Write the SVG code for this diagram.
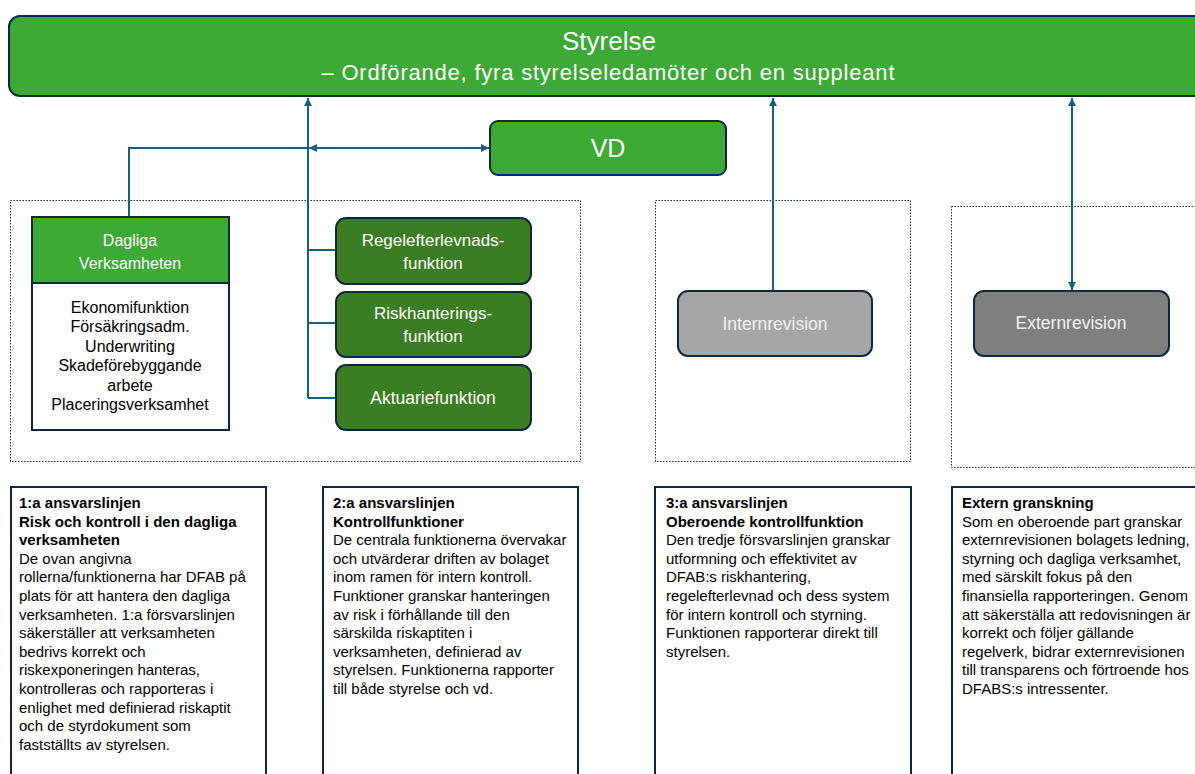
<svg xmlns="http://www.w3.org/2000/svg" width="1195" height="774" viewBox="0 0 1195 774">
<defs>
<style>
.lbl{font-family:"Liberation Sans",Arial,sans-serif;}
.wt{fill:#ffffff;}
.lt{fill:#f2f2f2;}
.node{stroke:#0e2841;stroke-width:2;}
.cont{fill:none;stroke:#0e2841;stroke-width:1;stroke-dasharray:1.5 1.5;}
.tbox{fill:#ffffff;stroke:#0e2841;stroke-width:2;}
.conn{fill:none;stroke:#156082;stroke-width:2;}
.body{font-family:"Liberation Sans",Arial,sans-serif;font-size:15px;fill:#000;}
.b{font-weight:bold;}
</style>
<marker id="ah" viewBox="0 0 10 10" refX="10" refY="5" markerWidth="9" markerHeight="8" markerUnits="userSpaceOnUse" orient="auto-start-reverse">
<path d="M0,0 L10,5 L0,10 z" fill="#156082"/>
</marker>
</defs>
<rect width="1195" height="774" fill="#ffffff"/>

<g id="containers">
<rect class="cont" x="10.5" y="200.5" width="570" height="261"/>
<rect class="cont" x="655.5" y="200.5" width="255" height="261"/>
<rect class="cont" x="951.5" y="206.5" width="260" height="261"/>
</g>

<g id="styrelse">
<rect class="node" x="9" y="16" width="1200" height="80" rx="11" fill="#3daa35"/>
<text class="lbl wt" x="609" y="50" font-size="26" text-anchor="middle">Styrelse</text>
<text class="lbl wt" x="608" y="80" font-size="22" text-anchor="middle" textLength="573" lengthAdjust="spacing">– Ordförande, fyra styrelseledamöter och en suppleant</text>
</g>

<g id="vd">
<rect class="node" x="490" y="121" width="236" height="54" rx="8" fill="#3daa35"/>
<text class="lbl wt" x="608" y="157" font-size="25" text-anchor="middle">VD</text>
</g>

<g id="connectors">
<path class="conn" d="M308,398 V98" marker-end="url(#ah)"/>
<path class="conn" d="M308,250 H336 M308,323 H336 M308,398 H336"/>
<path class="conn" d="M129,217 V148 H308"/>
<path class="conn" d="M309,148 H489" marker-start="url(#ah)" marker-end="url(#ah)"/>
<path class="conn" d="M773,290 V98" marker-end="url(#ah)"/>
<path class="conn" d="M1072,98 V290" marker-start="url(#ah)" marker-end="url(#ah)"/>
</g>

<g id="dagliga">
<rect class="node" x="32" y="283" width="197" height="147" fill="#ffffff"/>
<rect class="node" x="32" y="217" width="197" height="66" fill="#3daa35"/>
<text class="lbl wt" x="130" y="246" font-size="16" text-anchor="middle">Dagliga</text>
<text class="lbl wt" x="130" y="269" font-size="16" text-anchor="middle">Verksamheten</text>
<text class="lbl" x="130" y="313" font-size="16" text-anchor="middle" fill="#000">Ekonomifunktion</text>
<text class="lbl" x="130" y="332" font-size="16" text-anchor="middle" fill="#000">Försäkringsadm.</text>
<text class="lbl" x="130" y="352" font-size="16" text-anchor="middle" fill="#000">Underwriting</text>
<text class="lbl" x="130" y="371" font-size="16" text-anchor="middle" fill="#000">Skadeförebyggande</text>
<text class="lbl" x="130" y="391" font-size="16" text-anchor="middle" fill="#000">arbete</text>
<text class="lbl" x="130" y="410" font-size="16" text-anchor="middle" fill="#000">Placeringsverksamhet</text>
</g>

<g id="regelefterlevnad">
<rect class="node" x="336" y="218" width="195" height="66" rx="10" fill="#3b7d23"/>
<text class="lbl wt" x="433" y="246" font-size="17" text-anchor="middle">Regelefterlevnads-</text>
<text class="lbl wt" x="433" y="269" font-size="17" text-anchor="middle">funktion</text>
</g>

<g id="riskhantering">
<rect class="node" x="336" y="292" width="195" height="65" rx="10" fill="#3b7d23"/>
<text class="lbl wt" x="433" y="319" font-size="17" text-anchor="middle">Riskhanterings-</text>
<text class="lbl wt" x="433" y="342" font-size="17" text-anchor="middle">funktion</text>
</g>

<g id="aktuarie">
<rect class="node" x="336" y="365" width="195" height="65" rx="10" fill="#3b7d23"/>
<text class="lbl wt" x="433" y="404" font-size="17.5" text-anchor="middle">Aktuariefunktion</text>
</g>

<g id="internrevision">
<rect class="node" x="678" y="291" width="194" height="65" rx="10" fill="#a6a6a6"/>
<text class="lbl lt" x="775" y="330" font-size="17.5" text-anchor="middle">Internrevision</text>
</g>

<g id="externrevision">
<rect class="node" x="974" y="291" width="195" height="65" rx="10" fill="#7f7f7f"/>
<text class="lbl lt" x="1071" y="329" font-size="17.5" text-anchor="middle">Externrevision</text>
</g>

<g id="text1">
<rect class="tbox" x="11" y="487" width="255" height="300"/>
<text class="body">
<tspan class="b" x="19" y="508">1:a ansvarslinjen</tspan>
<tspan class="b" x="19" y="526.6">Risk och kontroll i den dagliga</tspan>
<tspan class="b" x="19" y="545.2">verksamheten</tspan>
<tspan x="19" y="563.8">De ovan angivna</tspan>
<tspan x="19" y="582.4">rollerna/funktionerna har DFAB på</tspan>
<tspan x="19" y="601">plats för att hantera den dagliga</tspan>
<tspan x="19" y="619.6">verksamheten. 1:a försvarslinjen</tspan>
<tspan x="19" y="638.2">säkerställer att verksamheten</tspan>
<tspan x="19" y="656.8">bedrivs korrekt och</tspan>
<tspan x="19" y="675.4">riskexponeringen hanteras,</tspan>
<tspan x="19" y="694">kontrolleras och rapporteras i</tspan>
<tspan x="19" y="712.6">enlighet med definierad riskaptit</tspan>
<tspan x="19" y="731.2">och de styrdokument som</tspan>
<tspan x="19" y="749.8">fastställts av styrelsen.</tspan>
</text>
</g>

<g id="text2">
<rect class="tbox" x="323" y="487" width="255" height="300"/>
<text class="body">
<tspan class="b" x="333" y="508">2:a ansvarslinjen</tspan>
<tspan class="b" x="333" y="526.6">Kontrollfunktioner</tspan>
<tspan x="333" y="545.2">De centrala funktionerna övervakar</tspan>
<tspan x="333" y="563.8">och utvärderar driften av bolaget</tspan>
<tspan x="333" y="582.4">inom ramen för intern kontroll.</tspan>
<tspan x="333" y="601">Funktioner granskar hanteringen</tspan>
<tspan x="333" y="619.6">av risk i förhållande till den</tspan>
<tspan x="333" y="638.2">särskilda riskaptiten i</tspan>
<tspan x="333" y="656.8">verksamheten, definierad av</tspan>
<tspan x="333" y="675.4">styrelsen. Funktionerna rapporter</tspan>
<tspan x="333" y="694">till både styrelse och vd.</tspan>
</text>
</g>

<g id="text3">
<rect class="tbox" x="655" y="487" width="256" height="300"/>
<text class="body">
<tspan class="b" x="666" y="508">3:a ansvarslinjen</tspan>
<tspan class="b" x="666" y="526.6">Oberoende kontrollfunktion</tspan>
<tspan x="666" y="545.2">Den tredje försvarslinjen granskar</tspan>
<tspan x="666" y="563.8">utformning och effektivitet av</tspan>
<tspan x="666" y="582.4">DFAB:s riskhantering,</tspan>
<tspan x="666" y="601">regelefterlevnad och dess system</tspan>
<tspan x="666" y="619.6">för intern kontroll och styrning.</tspan>
<tspan x="666" y="638.2">Funktionen rapporterar direkt till</tspan>
<tspan x="666" y="656.8">styrelsen.</tspan>
</text>
</g>

<g id="text4">
<rect class="tbox" x="952" y="487" width="260" height="300"/>
<text class="body">
<tspan class="b" x="962" y="508">Extern granskning</tspan>
<tspan x="962" y="526.6">Som en oberoende part granskar</tspan>
<tspan x="962" y="545.2">externrevisionen bolagets ledning,</tspan>
<tspan x="962" y="563.8">styrning och dagliga verksamhet,</tspan>
<tspan x="962" y="582.4">med särskilt fokus på den</tspan>
<tspan x="962" y="601">finansiella rapporteringen. Genom</tspan>
<tspan x="962" y="619.6">att säkerställa att redovisningen är</tspan>
<tspan x="962" y="638.2">korrekt och följer gällande</tspan>
<tspan x="962" y="656.8">regelverk, bidrar externrevisionen</tspan>
<tspan x="962" y="675.4">till transparens och förtroende hos</tspan>
<tspan x="962" y="694">DFABS:s intressenter.</tspan>
</text>
</g>
</svg>
